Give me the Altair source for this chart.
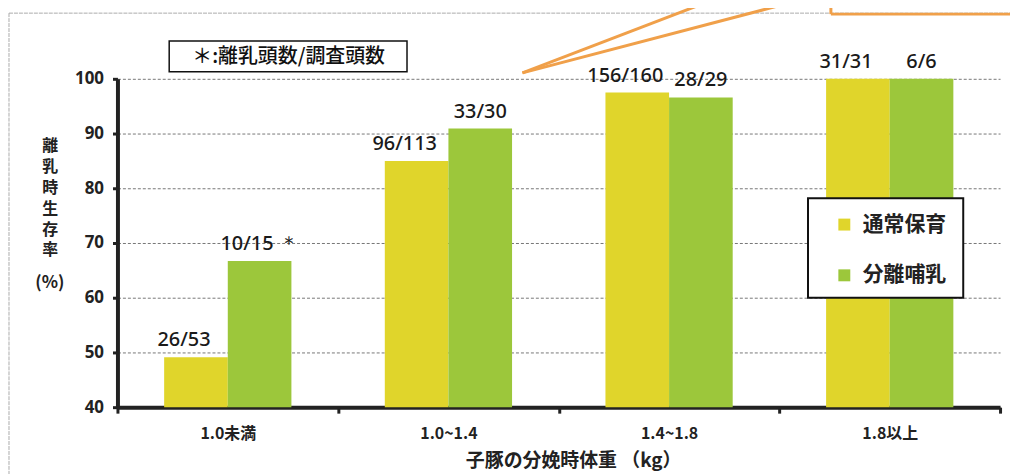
import altair as alt
import pandas as pd

categories = ["1.0未満", "1.0~1.4", "1.4~1.8", "1.8以上"]
series = ["通常保育", "分離哺乳"]
rate_normal = [49.1, 85.0, 97.5, 100.0]
rate_separate = [66.7, 90.9, 96.6, 100.0]
label_normal = ["26/53", "96/113", "156/160", "31/31"]
label_separate = ["10/15 ＊", "33/30", "28/29", "6/6"]
y_ticks = [40, 50, 60, 70, 80, 90, 100]

rows = []
for i, c in enumerate(categories):
    rows.append({"cat": c, "series": series[0], "rate": rate_normal[i], "label": label_normal[i]})
    rows.append({"cat": c, "series": series[1], "rate": rate_separate[i], "label": label_separate[i]})
df = pd.DataFrame(rows)

YELLOW = "#E0D52B"
GREEN = "#9CC73B"
FONT = "Noto Sans CJK JP"

x_enc = alt.X(
    "cat:N", sort=categories,
    scale=alt.Scale(paddingInner=0, paddingOuter=0),
    axis=alt.Axis(
        title="子豚の分娩時体重 （kg）", labelAngle=0, tickBand="extent",
        grid=False, domainWidth=4, domainColor="#222", tickColor="#222",
        tickWidth=3, tickSize=6, labelFontSize=16, labelFont=FONT,
        labelFontWeight="bold", labelColor="#222", labelPadding=12,
        titleFontSize=19, titleFont=FONT, titleFontWeight="bold",
        titleColor="#222", titlePadding=11, titleX=458,
    ),
)
xoff_enc = alt.XOffset("series:N", sort=series,
                       scale=alt.Scale(paddingOuter=0.734, paddingInner=0))
y_enc = alt.Y(
    "rate:Q",
    scale=alt.Scale(domain=[40, 100], nice=False, zero=False),
    axis=alt.Axis(
        values=y_ticks, title=["離", "乳", "時", "生", "存", "率"],
        titleAngle=0, titleAlign="center", titleBaseline="top",
        titleX=-68, titleY=59, titleFontSize=16, titleFont=FONT,
        titleFontWeight="bold", titleColor="#222", titleLineHeight=21,
        domainWidth=4, domainColor="#222", tickColor="#222", tickWidth=3,
        tickSize=5, labelFontSize=17, labelFont="Noto Sans",
        labelFontWeight="bold", labelColor="#222",
        labelPadding=9, grid=True, gridDash=[3, 2], gridColor="#777",
        gridWidth=1,
    ),
)

bars = alt.Chart(df).mark_bar().encode(
    x=x_enc, xOffset=xoff_enc, y=y_enc, y2=alt.datum(40),
    color=alt.Color(
        "series:N", sort=series,
        scale=alt.Scale(domain=series, range=[YELLOW, GREEN]),
        legend=alt.Legend(
            title=None, orient="none", legendX=720, legendY=136,
            symbolType="square", symbolSize=144, symbolStrokeWidth=0,
            labelFontSize=21, labelFont=FONT, labelFontWeight="bold",
            labelColor="#222", labelOffset=8, padding=0, rowPadding=29,
        ),
    ),
)

def label_layer(name, dx):
    return alt.Chart(df).transform_filter(
        alt.datum.series == name
    ).mark_text(
        baseline="bottom", dy=-7, dx=dx, fontSize=20, font="Noto Sans",
        color="#1a1a1a", fontWeight=500,
    ).encode(x=alt.X("cat:N", sort=categories), xOffset=xoff_enc,
             y=alt.Y("rate:Q"), text="label:N")

labels_a = label_layer(series[0], -12)
labels_b = label_layer(series[1], 0)

one = pd.DataFrame({"a": [0]})

unit_text = alt.Chart(one).mark_text(
    fontSize=17, font=FONT, fontWeight="bold", color="#222",
    baseline="middle", align="center",
).encode(x=alt.value(-68), y=alt.value(205), text=alt.value("(%)"))

legend_box = alt.Chart(one).mark_rect(fill="white", stroke="#111", strokeWidth=2).encode(
    x=alt.value(694), x2=alt.value(850), y=alt.value(120), y2=alt.value(220))

note_box = alt.Chart(one).mark_rect(fill="white", stroke="#111", strokeWidth=1.5).encode(
    x=alt.value(52), x2=alt.value(291), y=alt.value(-38), y2=alt.value(-7))
note_text = alt.Chart(one).mark_text(
    fontSize=20, font=FONT, color="#111", baseline="middle", align="center",
    fontWeight=500,
).encode(x=alt.value(172), y=alt.value(-22), text=alt.value("＊:離乳頭数/調査頭数"))

border_top = alt.Chart(one).mark_rule(color="#aaa", strokeWidth=1, strokeDash=[4, 1]).encode(
    x=alt.value(-109), x2=alt.value(900), y=alt.value(-66))
border_left = alt.Chart(one).mark_rule(color="#aaa", strokeWidth=1, strokeDash=[4, 1]).encode(
    x=alt.value(-109), y=alt.value(-66), y2=alt.value(400))

ORANGE = "#F0A04A"
call1 = alt.Chart(one).mark_rule(color=ORANGE, strokeWidth=3).encode(
    x=alt.value(407), y=alt.value(-6), x2=alt.value(595), y2=alt.value(-78))
call2 = alt.Chart(one).mark_rule(color=ORANGE, strokeWidth=3).encode(
    x=alt.value(407), y=alt.value(-6), x2=alt.value(682), y2=alt.value(-78))
call3 = alt.Chart(one).mark_rule(color=ORANGE, strokeWidth=3).encode(
    x=alt.value(717), x2=alt.value(900), y=alt.value(-65))
call4 = alt.Chart(one).mark_rule(color=ORANGE, strokeWidth=3).encode(
    x=alt.value(717), y=alt.value(-80), y2=alt.value(-65))

chart = alt.layer(
    border_top, border_left, bars, labels_a, labels_b, unit_text, legend_box,
    note_box, note_text, call1, call2, call3, call4,
).properties(
    width=887, height=330,
    autosize=alt.AutoSizeParams(type="none"),
    padding={"left": 110, "top": 70, "right": 10, "bottom": 66},
    background="white",
).configure_view(stroke=None)

chart.save("out.html", embed_options={"renderer": "svg", "actions": False})
